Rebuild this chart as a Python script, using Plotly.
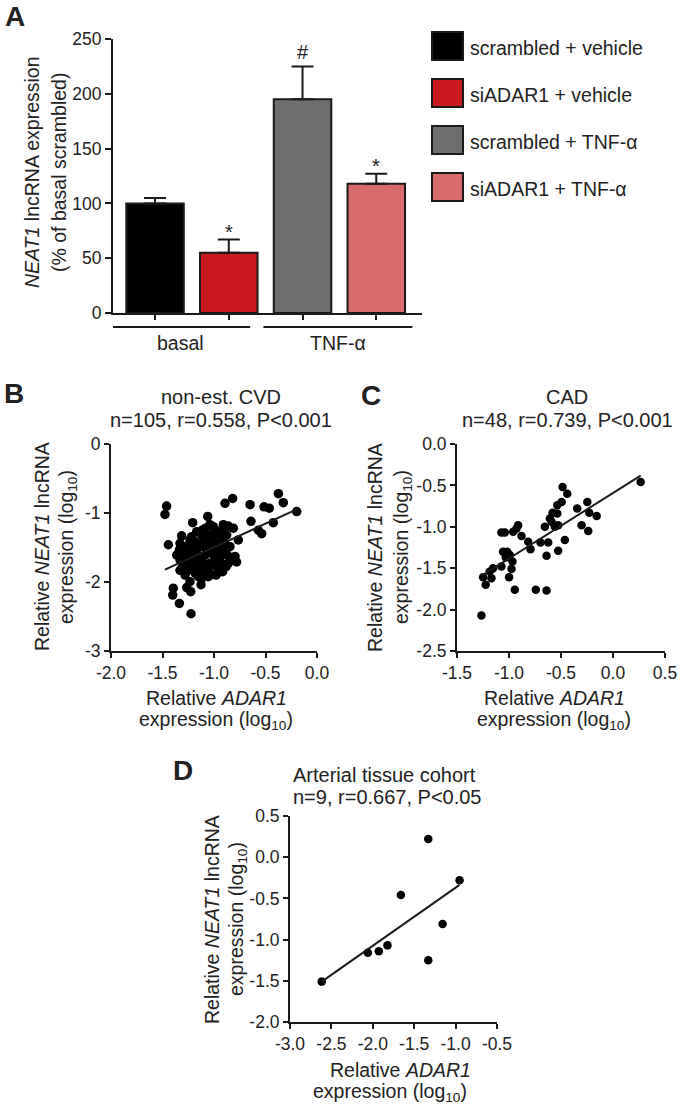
import numpy as np
import plotly.graph_objects as go

W, H = 681, 1105
FONT = "Arial, Liberation Sans, Helvetica, sans-serif"
INK = "#1a1a1a"

# ---- panel A data ----
conditions = ["scrambled + vehicle", "siADAR1 + vehicle", "scrambled + TNF-α", "siADAR1 + TNF-α"]
bar_colors = ["#000000", "#c9181e", "#6e6e6e", "#d96b6d"]
expr_mean = [100, 55, 195, 118]
expr_sem = [5, 12, 30, 9]
signif = ["", "*", "#", "*"]
groups = ["basal", "TNF-α"]
a_yticks = [0, 50, 100, 150, 200, 250]

# ---- panel B data (non-est. CVD, n=105) ----
b_x = [-1.46, -1.476, -1.443, -1.314, -1.207, -1.061, -0.893, -0.819, -0.65, -0.514,
       -0.463, -0.375, -0.327, -0.197, -0.641, -0.424, -0.57, -0.537, -0.764, -0.812,
       -0.909, -0.861, -1.039, -1.168, -1.395, -1.401, -1.336, -1.265, -1.226, -1.223,
       -1.126, -1.12, -1.039, -0.968, -0.861, -0.796, -0.78, -1.33, -1.281, -1.184,
       -1.362, -1.33,
       -1.298, -1.265, -1.233, -1.2, -1.249, -1.217, -1.168, -1.136, -1.103, -1.071,
       -1.039, -1.006, -0.974, -0.942, -1.071, -1.023, -0.99, -1.12, -1.087, -1.152,
       -1.2, -1.039, -0.942, -0.909, -0.974, -1.055, -1.233, -1.281, -1.184, -1.12,
       -1.023, -1.087, -0.925, -0.99, -1.142, -1.336, -0.87, -1.168, -1.055, -1.103,
       -0.893, -0.942, -1.265, -1.304, -1.249, -1.2, -0.974, -0.845, -1.006, -1.152,
       -1.11, -1.084, -0.925, -0.877, -1.233, -1.152, -1.071, -1.217, -0.98, -1.33,
       -0.883, -0.828, -0.916]
b_y = [-0.9, -1.02, -1.46, -1.33, -1.14, -1.05, -0.86, -0.79, -0.88, -0.91,
       -0.93, -0.72, -0.85, -0.98, -1.12, -1.14, -1.25, -1.3, -1.39, -1.22,
       -1.17, -1.19, -1.17, -1.27, -2.09, -2.19, -2.31, -2.08, -2.14, -2.46,
       -2.04, -1.95, -1.9, -1.87, -1.73, -1.63, -1.71, -1.83, -1.9, -1.87,
       -1.61, -1.68,
       -1.536, -1.488, -1.44, -1.512, -1.609, -1.681, -1.585, -1.488, -1.415, -1.367,
       -1.319, -1.391, -1.464, -1.343, -1.536, -1.585, -1.657, -1.681, -1.754, -1.778,
       -1.754, -1.73, -1.633, -1.536, -1.778, -1.826, -1.391, -1.633, -1.415, -1.319,
       -1.464, -1.609, -1.73, -1.271, -1.826, -1.536, -1.609, -1.681, -1.923, -1.85,
       -1.44, -1.44, -1.73, -1.768, -1.826, -1.633, -1.536, -1.488, -1.198, -1.464,
       -1.246, -1.222, -1.246, -1.319, -1.995, -1.923, -1.488, -1.343, -1.899, -1.44,
       -1.778, -1.681, -1.85]
b_xticks = [-2.0, -1.5, -1.0, -0.5, 0.0]
b_xticktext = ["-2.0", "-1.5", "-1.0", "-0.5", "0.0"]
b_yticks = [0, -1, -2, -3]
b_yticktext = ["0", "-1", "-2", "-3"]

# ---- panel C data (CAD, n=48) ----
c_x = [-1.265, -1.249, -1.224, -1.185, -1.153, -1.169, -1.073, -1.057, -1.031, -0.992,
       -0.967, -0.976, -0.999, -0.944, -1.073, -1.04, -0.96, -0.912, -0.88, -0.816,
       -0.793, -0.742, -0.639, -0.639, -0.697, -0.623, -0.655, -0.591, -0.581, -0.536,
       -0.536, -0.494, -0.527, -0.527, -0.463, -0.485, -0.44, -0.344, -0.302, -0.247,
       -0.228, -0.238, -0.157, 0.266, -1.018, -0.928, -0.607, -0.559]
c_y = [-2.07, -1.61, -1.7, -1.54, -1.5, -1.62, -1.48, -1.3, -1.37, -1.34,
       -1.42, -1.51, -1.61, -1.76, -1.07, -1.07, -1.06, -0.98, -1.11, -1.18,
       -1.27, -1.76, -1.77, -1.35, -1.19, -1.19, -1.0, -0.94, -0.83, -0.84,
       -0.74, -0.7, -0.98, -1.29, -1.16, -0.52, -0.6, -0.78, -0.98, -0.7,
       -0.83, -1.05, -0.87, -0.46, -1.3, -1.02, -0.9, -1.0]
c_xticks = [-1.5, -1.0, -0.5, 0.0, 0.5]
c_xticktext = ["-1.5", "-1.0", "-0.5", "0.0", "0.5"]
c_yticks = [0.0, -0.5, -1.0, -1.5, -2.0, -2.5]
c_yticktext = ["0.0", "-0.5", "-1.0", "-1.5", "-2.0", "-2.5"]

# ---- panel D data (arterial tissue, n=9) ----
d_x = [-2.617, -2.06, -1.927, -1.823, -1.661, -1.33, -1.33, -1.157, -0.952]
d_y = [-1.51, -1.16, -1.14, -1.07, -0.46, 0.22, -1.25, -0.81, -0.28]
d_xticks = [-3.0, -2.5, -2.0, -1.5, -1.0, -0.5]
d_xticktext = ["-3.0", "-2.5", "-2.0", "-1.5", "-1.0", "-0.5"]
d_yticks = [0.5, 0.0, -0.5, -1.0, -1.5, -2.0]
d_yticktext = ["0.5", "0.0", "-0.5", "-1.0", "-1.5", "-2.0"]


def px(x):
    return x / W


def py(y):
    return 1 - y / H


def note(text, x, y, size=19.5, angle=0, xanchor="center", bold=False):
    if bold:
        text = f"<b>{text}</b>"
    return dict(text=text, x=px(x), y=py(y), xref="paper", yref="paper",
                showarrow=False, textangle=angle, xanchor=xanchor, yanchor="middle",
                font=dict(family=FONT, size=size, color="#222"))


def vnote(text, x, y):
    # rotated text box sits a few px right of the glyphs, nudge it back
    return note(text, x - 3, y, angle=-90)


def axis_style(**kw):
    base = dict(showline=True, linewidth=2, linecolor=INK, ticks="outside",
                ticklen=5, tickwidth=2, tickcolor=INK, showgrid=False, zeroline=False,
                automargin=False, fixedrange=True,
                tickfont=dict(family=FONT, size=17.5, color="#222"))
    base.update(kw)
    return base


fig = go.Figure()

# panel A bars
fig.add_trace(go.Bar(
    x=list(range(len(conditions))), y=expr_mean, width=0.78,
    marker=dict(color=bar_colors, line=dict(color=INK, width=2)),
    error_y=dict(type="data", array=expr_sem, arrayminus=[0] * len(expr_sem),
                 symmetric=False, color=INK, thickness=2, width=11),
    xaxis="x", yaxis="y", hoverinfo="skip",
))

# scatter panels with least-squares line spanning the data range
for xs, ys, ax, ay, msize in [(b_x, b_y, "x2", "y2", 9.5),
                              (c_x, c_y, "x3", "y3", 8.5),
                              (d_x, d_y, "x4", "y4", 8.5)]:
    fig.add_trace(go.Scatter(x=xs, y=ys, mode="markers", xaxis=ax, yaxis=ay,
                             marker=dict(color="#000", size=msize), cliponaxis=False))
    slope, icpt = np.polyfit(xs, ys, 1)
    lx = np.array([min(xs), max(xs)])
    fig.add_trace(go.Scatter(x=lx, y=slope * lx + icpt, mode="lines", xaxis=ax, yaxis=ay,
                             line=dict(color=INK, width=2), cliponaxis=False))

annotations = []
shapes = []

# panel A significance marks
for i, (m, e, s) in enumerate(zip(expr_mean, expr_sem, signif)):
    if s:
        annotations.append(dict(text=s, x=i, y=m + e, xref="x", yref="y", showarrow=False,
                                yanchor="bottom", yshift=-5 if s == "*" else 1,
                                font=dict(family=FONT, size=20, color="#222")))

group_spans = [(-0.61, 1.29), (1.47, 3.49)]
for g, (x0, x1) in zip(groups, group_spans):
    shapes.append(dict(type="line", xref="x", yref="paper", x0=x0, x1=x1,
                       y0=py(327), y1=py(327), line=dict(color=INK, width=2)))
    annotations.append(dict(text=g, x=(x0 + x1) / 2, y=py(343), xref="x", yref="paper",
                            showarrow=False, yanchor="middle",
                            font=dict(family=FONT, size=19.5, color="#222")))

# legend for panel A
for i, (lab, col) in enumerate(zip(conditions, bar_colors)):
    cy = 46 + i * 47
    shapes.append(dict(type="rect", xref="paper", yref="paper",
                       x0=px(432), x1=px(463), y0=py(cy - 14), y1=py(cy + 14),
                       fillcolor=col, line=dict(color=INK, width=2)))
    annotations.append(note(lab, 468, cy + 2, xanchor="left"))

annotations += [
    vnote("<i>NEAT1</i> lncRNA expression", 35, 172),
    vnote("(% of basal scrambled)", 62, 172),
    note("A", 15, 17, size=28, bold=True),
    note("B", 14, 393, size=28, bold=True),
    note("C", 371, 395, size=28, bold=True),
    note("D", 183, 770, size=28, bold=True),
    # B
    note("non-est. CVD", 221, 397, size=20),
    note("n=105, r=0.558, P&lt;0.001", 221, 420, size=20),
    vnote("Relative <i>NEAT1</i> lncRNA", 45, 547),
    vnote("expression (log<sub>10</sub>)", 70, 547),
    note("Relative <i>ADAR1</i>", 216, 698),
    note("expression (log<sub>10</sub>)", 216, 720),
    # C
    note("CAD", 567, 397, size=20),
    note("n=48, r=0.739, P&lt;0.001", 567, 420, size=20),
    vnote("Relative <i>NEAT1</i> lncRNA", 378, 547),
    vnote("expression (log<sub>10</sub>)", 405, 547),
    note("Relative <i>ADAR1</i>", 554, 698),
    note("expression (log<sub>10</sub>)", 554, 720),
    # D
    note("Arterial tissue cohort", 385, 775, size=20),
    note("n=9, r=0.667, P&lt;0.05", 387, 797, size=20),
    vnote("Relative <i>NEAT1</i> lncRNA", 215, 919),
    vnote("expression (log<sub>10</sub>)", 240, 919),
    note("Relative <i>ADAR1</i>", 400, 1070),
    note("expression (log<sub>10</sub>)", 390, 1092),
]

fig.update_layout(
    template="none",
    width=W, height=H, margin=dict(l=0, r=0, t=0, b=0, pad=0), autosize=False,
    paper_bgcolor="white", plot_bgcolor="white", showlegend=False,
    font=dict(family=FONT, color="#222"),
    xaxis=axis_style(domain=[px(113), px(422)], range=[-0.57, 3.62], anchor="y",
                     tickvals=list(range(len(conditions))), showticklabels=False),
    yaxis=axis_style(domain=[py(313), py(39)], range=[0, 250], anchor="x",
                     tickvals=a_yticks, ticklen=6),
    xaxis2=axis_style(domain=[px(111), px(317)], range=[-2.0, 0.0], anchor="y2",
                      tickvals=b_xticks, ticktext=b_xticktext),
    yaxis2=axis_style(domain=[py(651), py(444)], range=[-3, 0], anchor="x2",
                      tickvals=b_yticks, ticktext=b_yticktext),
    xaxis3=axis_style(domain=[px(457), px(665)], range=[-1.5, 0.5], anchor="y3",
                      tickvals=c_xticks, ticktext=c_xticktext),
    yaxis3=axis_style(domain=[py(651), py(444)], range=[-2.5, 0.0], anchor="x3",
                      tickvals=c_yticks, ticktext=c_yticktext),
    xaxis4=axis_style(domain=[px(290), px(497)], range=[-3.0, -0.5], anchor="y4",
                      tickvals=d_xticks, ticktext=d_xticktext),
    yaxis4=axis_style(domain=[py(1022), py(816)], range=[-2.0, 0.5], anchor="x4",
                      tickvals=d_yticks, ticktext=d_yticktext),
    annotations=annotations,
    shapes=shapes,
)

# drop the browser's default 8px body margin so the figure sits at the page origin
fig.write_html("out.html", config={"displayModeBar": False},
               post_script="document.body.style.margin='0';")
